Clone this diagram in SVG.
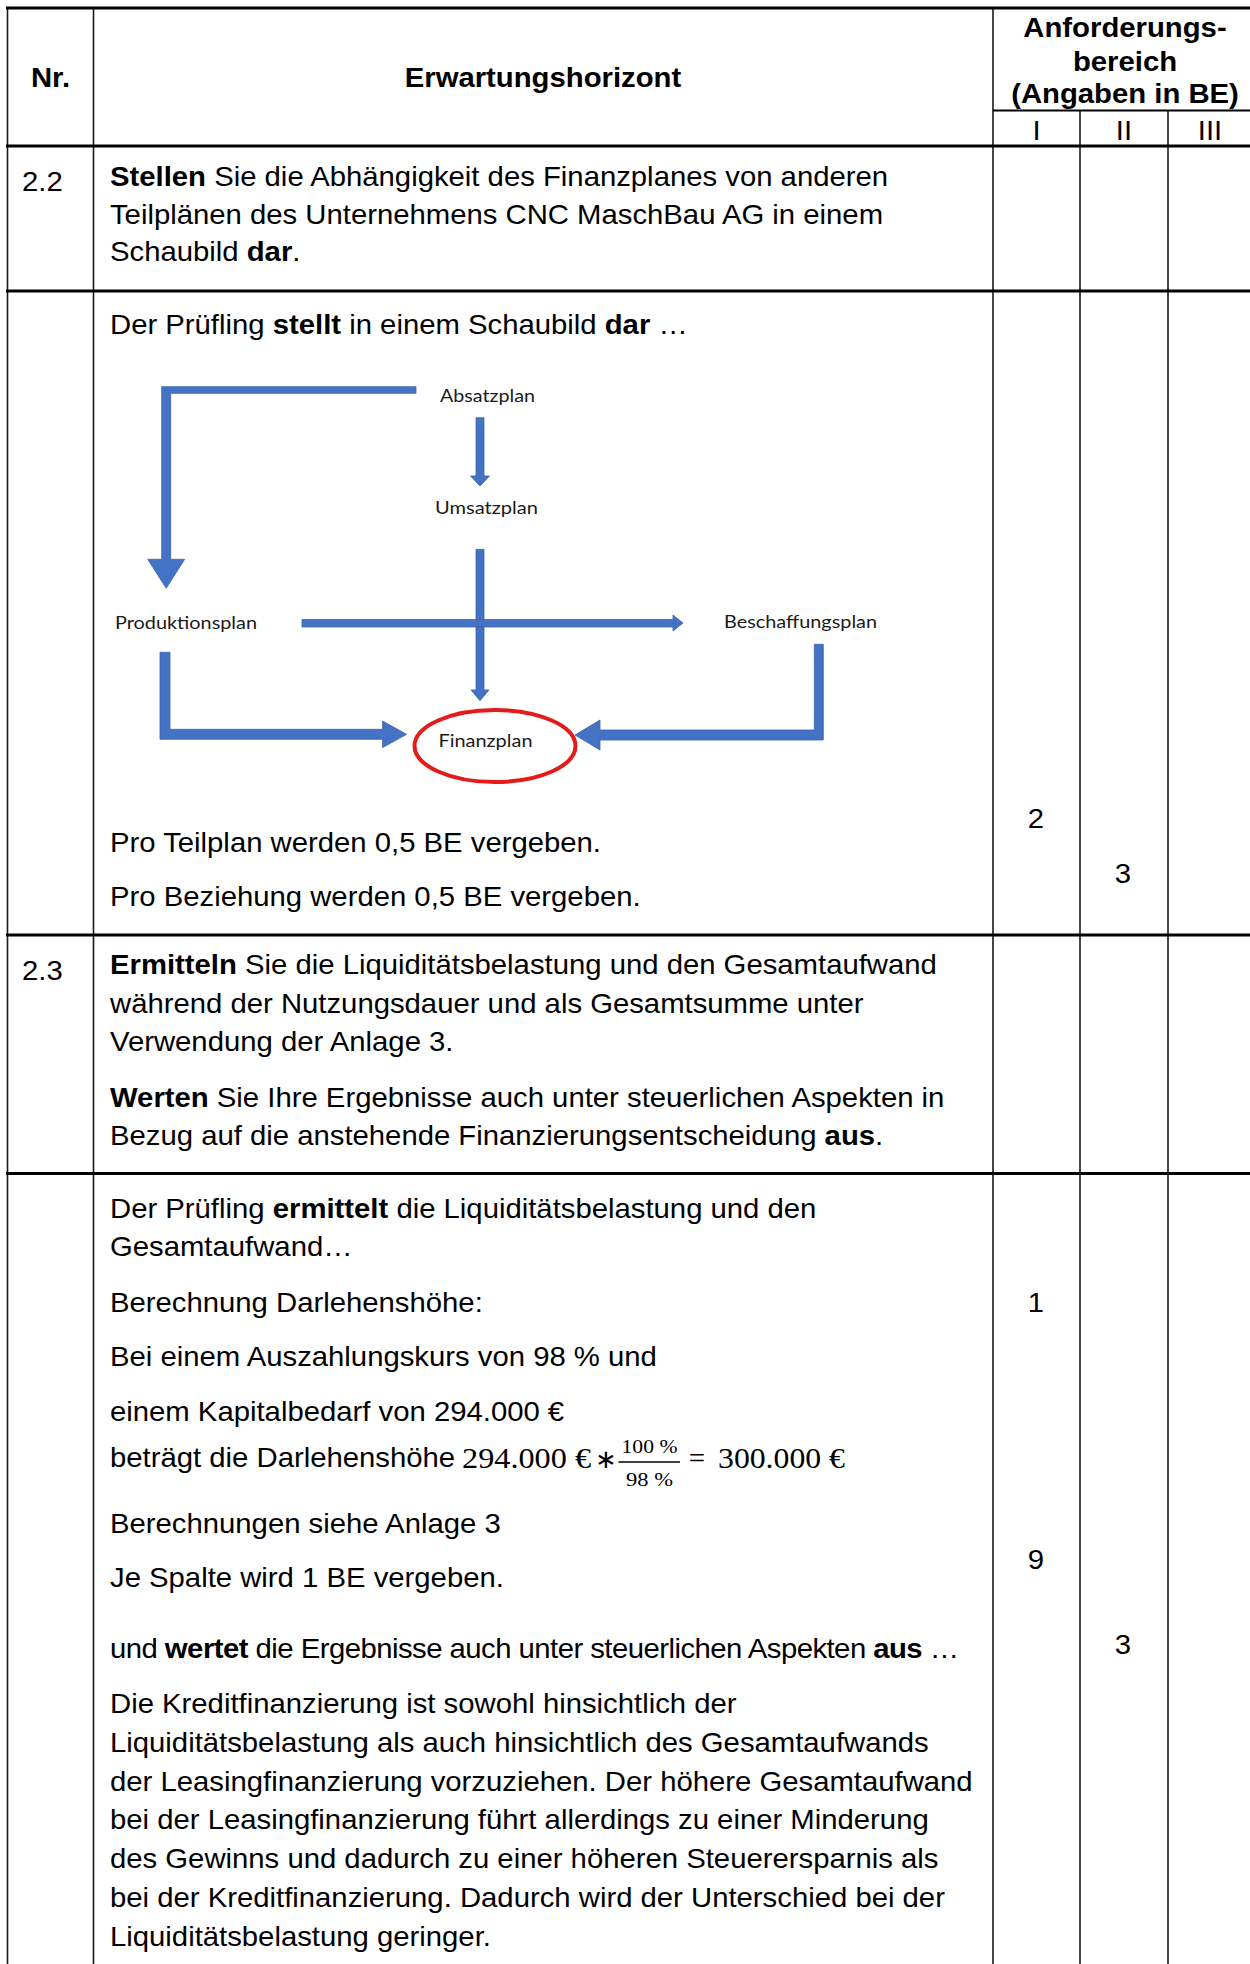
<svg xmlns="http://www.w3.org/2000/svg" width="1250" height="1964" viewBox="0 0 1250 1964">
<style>
.t{font-family:"Liberation Sans",Arial,sans-serif;font-size:27px;fill:#000}
.b{font-weight:bold}
.c{text-anchor:middle}
.d{font-family:Lato,"Open Sans",sans-serif;font-size:18px;fill:#1a1a1a}
.m{font-family:"Liberation Serif","Times New Roman",serif;fill:#000}
.thick{stroke:#000;stroke-width:3}
.thin{stroke:#1a1a1a;stroke-width:1.6}
.arr{fill:#4472C4;stroke:#3b63ad;stroke-width:0.8}
</style>
<rect width="1250" height="1964" fill="#fff"/>
<g id="grid" fill="none">
<line class="thin" x1="7.5" y1="8" x2="7.5" y2="1964"/>
<line class="thin" x1="93.5" y1="8" x2="93.5" y2="1964"/>
<line class="thin" x1="993" y1="8" x2="993" y2="1964" stroke="#444"/>
<line class="thin" x1="1080" y1="110" x2="1080" y2="1964"/>
<line class="thin" x1="1168" y1="110" x2="1168" y2="1964"/>
<line class="thick" x1="6" y1="8" x2="1250" y2="8"/>
<line x1="993" y1="110.5" x2="1250" y2="110.5" stroke="#000" stroke-width="2"/>
<line class="thick" x1="6" y1="146" x2="1250" y2="146"/>
<line class="thick" x1="6" y1="291" x2="1250" y2="291"/>
<line class="thick" x1="6" y1="935" x2="1250" y2="935"/>
<line class="thick" x1="6" y1="1173.5" x2="1250" y2="1173.5"/>
</g>
<g id="text" transform="scale(1.085 1)">
<text class="t b c" x="46.54" y="87">Nr.</text>
<text class="t b c" x="500.46" y="87">Erwartungshorizont</text>
<text class="t b c" x="1036.87" y="37">Anforderungs-</text>
<text class="t b c" x="1036.87" y="71">bereich</text>
<text class="t b c" x="1036.87" y="103.5">(Angaben in BE)</text>
<text class="t c" x="955.3" y="140">I</text>
<text class="t c" x="1035.94" y="140">II</text>
<text class="t c" x="1115.21" y="140">III</text>

<text class="t" x="20.28" y="191">2.2</text>
<text class="t" x="101.38" y="186.2"><tspan class="b">Stellen</tspan> Sie die Abhängigkeit des Finanzplanes von anderen</text>
<text class="t" x="101.38" y="223.7">Teilplänen des Unternehmens CNC MaschBau AG in einem</text>
<text class="t" x="101.38" y="261.2">Schaubild <tspan class="b">dar</tspan>.</text>

<text class="t" x="101.38" y="334">Der Prüfling <tspan class="b">stellt</tspan> in einem Schaubild <tspan class="b">dar</tspan> …</text>
<text class="t" x="101.38" y="852">Pro Teilplan werden 0,5 BE vergeben.</text>
<text class="t" x="101.38" y="906">Pro Beziehung werden 0,5 BE vergeben.</text>
<text class="t c" x="954.84" y="828">2</text>
<text class="t c" x="1035.02" y="883">3</text>

<text class="t" x="20.28" y="980">2.3</text>
<text class="t" x="101.38" y="974.5"><tspan class="b">Ermitteln</tspan> Sie die Liquiditätsbelastung und den Gesamtaufwand</text>
<text class="t" x="101.38" y="1013">während der Nutzungsdauer und als Gesamtsumme unter</text>
<text class="t" x="101.38" y="1051.5">Verwendung der Anlage 3.</text>
<text class="t" x="101.38" y="1107"><tspan class="b">Werten</tspan> Sie Ihre Ergebnisse auch unter steuerlichen Aspekten in</text>
<text class="t" x="101.38" y="1145.5">Bezug auf die anstehende Finanzierungsentscheidung <tspan class="b">aus</tspan>.</text>

<text class="t" x="101.38" y="1218.5">Der Prüfling <tspan class="b">ermittelt</tspan> die Liquiditätsbelastung und den</text>
<text class="t" x="101.38" y="1256">Gesamtaufwand…</text>
<text class="t" x="101.38" y="1312">Berechnung Darlehenshöhe:</text>
<text class="t c" x="954.84" y="1312">1</text>
<text class="t" x="101.38" y="1366">Bei einem Auszahlungskurs von 98 % und</text>
<text class="t" x="101.38" y="1421">einem Kapitalbedarf von 294.000 €</text>
<text class="t" x="101.38" y="1467.5">beträgt die Darlehenshöhe</text>
<text class="t" x="101.38" y="1533">Berechnungen siehe Anlage 3</text>
<text class="t" x="101.38" y="1587">Je Spalte wird 1 BE vergeben.</text>
<text class="t c" x="954.84" y="1569">9</text>
<text class="t" x="101.38" y="1658" textLength="782.5" lengthAdjust="spacing">und <tspan class="b">wertet</tspan> die Ergebnisse auch unter steuerlichen Aspekten <tspan class="b">aus</tspan> …</text>
<text class="t c" x="1035.02" y="1654">3</text>
<text class="t" x="101.38" y="1713">Die Kreditfinanzierung ist sowohl hinsichtlich der</text>
<text class="t" x="101.38" y="1751.8">Liquiditätsbelastung als auch hinsichtlich des Gesamtaufwands</text>
<text class="t" x="101.38" y="1790.7">der Leasingfinanzierung vorzuziehen. Der höhere Gesamtaufwand</text>
<text class="t" x="101.38" y="1829.5">bei der Leasingfinanzierung führt allerdings zu einer Minderung</text>
<text class="t" x="101.38" y="1868.3">des Gewinns und dadurch zu einer höheren Steuerersparnis als</text>
<text class="t" x="101.38" y="1907.2">bei der Kreditfinanzierung. Dadurch wird der Unterschied bei der</text>
<text class="t" x="101.38" y="1946">Liquiditätsbelastung geringer.</text>
</g>
<g id="formula">
<text class="m" x="462" y="1467.5" font-size="29" textLength="129" lengthAdjust="spacingAndGlyphs">294.000 €</text>
<text class="m" x="606" y="1467.5" font-size="26" text-anchor="middle">∗</text>
<line x1="618.5" y1="1462" x2="680" y2="1462" stroke="#000" stroke-width="1.6"/>
<text class="m" x="621.5" y="1453" font-size="19" textLength="56" lengthAdjust="spacingAndGlyphs">100 %</text>
<text class="m" x="626" y="1486" font-size="19" textLength="47" lengthAdjust="spacingAndGlyphs">98 %</text>
<text class="m" x="697" y="1467.5" font-size="29" text-anchor="middle">=</text>
<text class="m" x="718" y="1467.5" font-size="29" textLength="127" lengthAdjust="spacingAndGlyphs">300.000 €</text>
</g>
<g id="connectors">
<polygon class="arr" points="416,386.7 161.7,386.7 161.7,559.3 147.7,559.3 166.2,588.3 184.7,559.3 170.7,559.3 170.7,393.3 416,393.3"/>
<polygon class="arr" points="476,417.7 484,417.7 484,476 489.5,476 480,486 470.5,476 476,476"/>
<polygon class="arr" points="476,549.3 484,549.3 484,690 489,690 480,700.7 471,690 476,690"/>
<polygon class="arr" points="302,619.5 673,619.5 673,615 683,623 673,631 673,627 302,627"/>
<polygon class="arr" points="160,652.3 170,652.3 170,729.3 382.6,729.3 382.6,721 406.6,734.3 382.6,747.6 382.6,739.3 160,739.3"/>
<polygon class="arr" points="814.3,644.3 823.3,644.3 823.3,740 600,740 600,750 575,735 600,720 600,730 814.3,730"/>
</g>
<g id="absatzplan"><text class="d" x="440" y="402.3" textLength="95" lengthAdjust="spacingAndGlyphs">Absatzplan</text></g>
<g id="umsatzplan"><text class="d" x="435" y="514" textLength="103" lengthAdjust="spacingAndGlyphs">Umsatzplan</text></g>
<g id="produktionsplan"><text class="d" x="115" y="629" textLength="142" lengthAdjust="spacingAndGlyphs">Produktionsplan</text></g>
<g id="beschaffungsplan"><text class="d" x="724" y="628" textLength="153" lengthAdjust="spacingAndGlyphs">Beschaffungsplan</text></g>
<g id="finanzplan">
<ellipse cx="495" cy="746" rx="80.5" ry="36" fill="none" stroke="#e31b1b" stroke-width="4"/>
<text class="d" x="438.5" y="747" textLength="94" lengthAdjust="spacingAndGlyphs">Finanzplan</text>
</g>
</svg>
